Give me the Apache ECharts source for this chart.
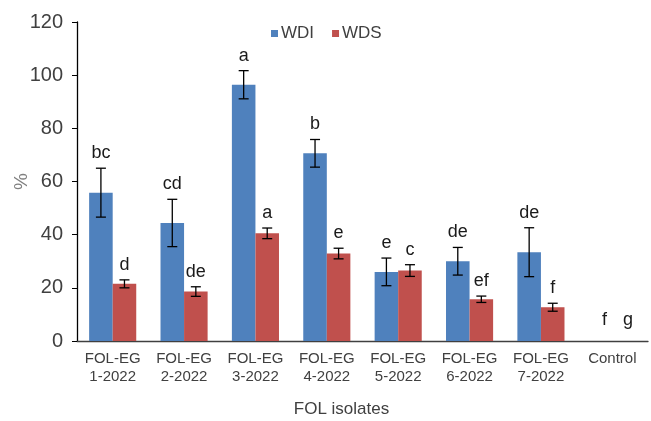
<!DOCTYPE html>
<html>
<head>
<meta charset="utf-8">
<script src="https://cdn.jsdelivr.net/npm/echarts@6/dist/echarts.min.js"></script>
<style>
  html, body { margin: 0; padding: 0; background: #fff; }
  #chart { width: 651px; height: 421px; }
</style>
</head>
<body>
<div id="chart"></div>
<script>
// chart data
var categories = ["FOL-EG\n1-2022", "FOL-EG\n2-2022", "FOL-EG\n3-2022", "FOL-EG\n4-2022",
  "FOL-EG\n5-2022", "FOL-EG\n6-2022", "FOL-EG\n7-2022", "Control"];
var wdi = [55.8, 44.4, 96.4, 70.6, 26.0, 30.0, 33.4, 0];
var wdiErr = [9.2, 8.9, 5.3, 5.2, 5.2, 5.2, 9.2, 0];
var wds = [21.5, 18.6, 40.5, 32.9, 26.5, 15.7, 12.7, 0];
var wdsErr = [1.5, 1.8, 2.0, 2.0, 2.2, 1.2, 1.5, 0];
var wdiLetters = ["bc", "cd", "a", "b", "e", "de", "de", "f"];
var wdsLetters = ["d", "de", "a", "e", "c", "ef", "f", "g"];
var yTicks = [0, 20, 40, 60, 80, 100, 120];

var font = "Liberation Sans, Arial, sans-serif";
var barPct = 0.33;

function errorSeries(name, means, errs, letters, side) {
  return {
    name: name + " err",
    type: "custom",
    z: 5,
    data: means.map(function (m, i) { return [i, m, errs[i]]; }),
    renderItem: function (params, api) {
      var i = api.value(0);
      var m = api.value(1);
      var e = api.value(2);
      var band = api.size([1, 0])[0];
      var dx = side * band * barPct / 2;
      var top = api.coord([i, m + e]);
      var bot = api.coord([i, m - e]);
      var x = top[0] + dx;
      var cap = 5;
      var children = [];
      if (e > 0) {
        var ls = { stroke: "#000", lineWidth: 1.3 };
        children.push({ type: "line", shape: { x1: x, y1: top[1], x2: x, y2: bot[1] }, style: ls });
        children.push({ type: "line", shape: { x1: x - cap, y1: top[1], x2: x + cap, y2: top[1] }, style: ls });
        children.push({ type: "line", shape: { x1: x - cap, y1: bot[1], x2: x + cap, y2: bot[1] }, style: ls });
      }
      children.push({
        type: "text",
        style: {
          text: letters[i], x: e > 0 ? x : x + 4, y: top[1] - (e > 0 ? 6 : 12),
          align: "center", verticalAlign: "bottom",
          fontSize: 18, fontFamily: font, fill: "#1a1a1a"
        }
      });
      return { type: "group", children: children };
    }
  };
}

var chart = echarts.init(document.getElementById("chart"));
chart.setOption({
  animation: false,
  color: ["#4f81bd", "#c0504d"],
  grid: { left: 77, right: 3, top: 22, bottom: 80, outerBoundsMode: "none", containLabel: false },
  legend: {
    data: ["WDI", "WDS"],
    left: 266,
    top: 20,
    icon: "rect",
    itemWidth: 7,
    itemHeight: 7,
    itemGap: 18,
    textStyle: { fontSize: 17, fontFamily: font, color: "#404040", padding: [0, 0, 0, -2] }
  },
  xAxis: {
    type: "category",
    data: categories,
    name: "FOL isolates",
    nameLocation: "middle",
    nameGap: 60,
    nameMoveOverlap: false,
    nameTextStyle: { fontSize: 17, fontFamily: font, color: "#404040", padding: [0, 42, 0, 0] },
    axisLine: { lineStyle: { color: "#404040", width: 1.3 } },
    axisTick: { show: false },
    axisLabel: { fontSize: 15, fontFamily: font, color: "#404040", lineHeight: 18, margin: 9, interval: 0 }
  },
  yAxis: {
    type: "value",
    min: yTicks[0],
    max: yTicks[yTicks.length - 1],
    interval: 20,
    name: "%",
    nameLocation: "middle",
    nameRotate: 90,
    nameGap: 46,
    nameMoveOverlap: false,
    nameTextStyle: { fontSize: 19, fontFamily: font, color: "#808080" },
    axisLine: { show: true, lineStyle: { color: "#000", width: 1.3 } },
    axisTick: { show: true, length: 5, lineStyle: { color: "#000" } },
    axisLabel: { fontSize: 20, fontFamily: font, color: "#404040", margin: 14 },
    splitLine: { show: false }
  },
  series: [
    { name: "WDI", type: "bar", data: wdi, barWidth: "33%", barGap: "0%" },
    { name: "WDS", type: "bar", data: wds, barWidth: "33%", barGap: "0%" },
    errorSeries("WDI", wdi, wdiErr, wdiLetters, -1),
    errorSeries("WDS", wds, wdsErr, wdsLetters, 1)
  ]
});
</script>
</body>
</html>
